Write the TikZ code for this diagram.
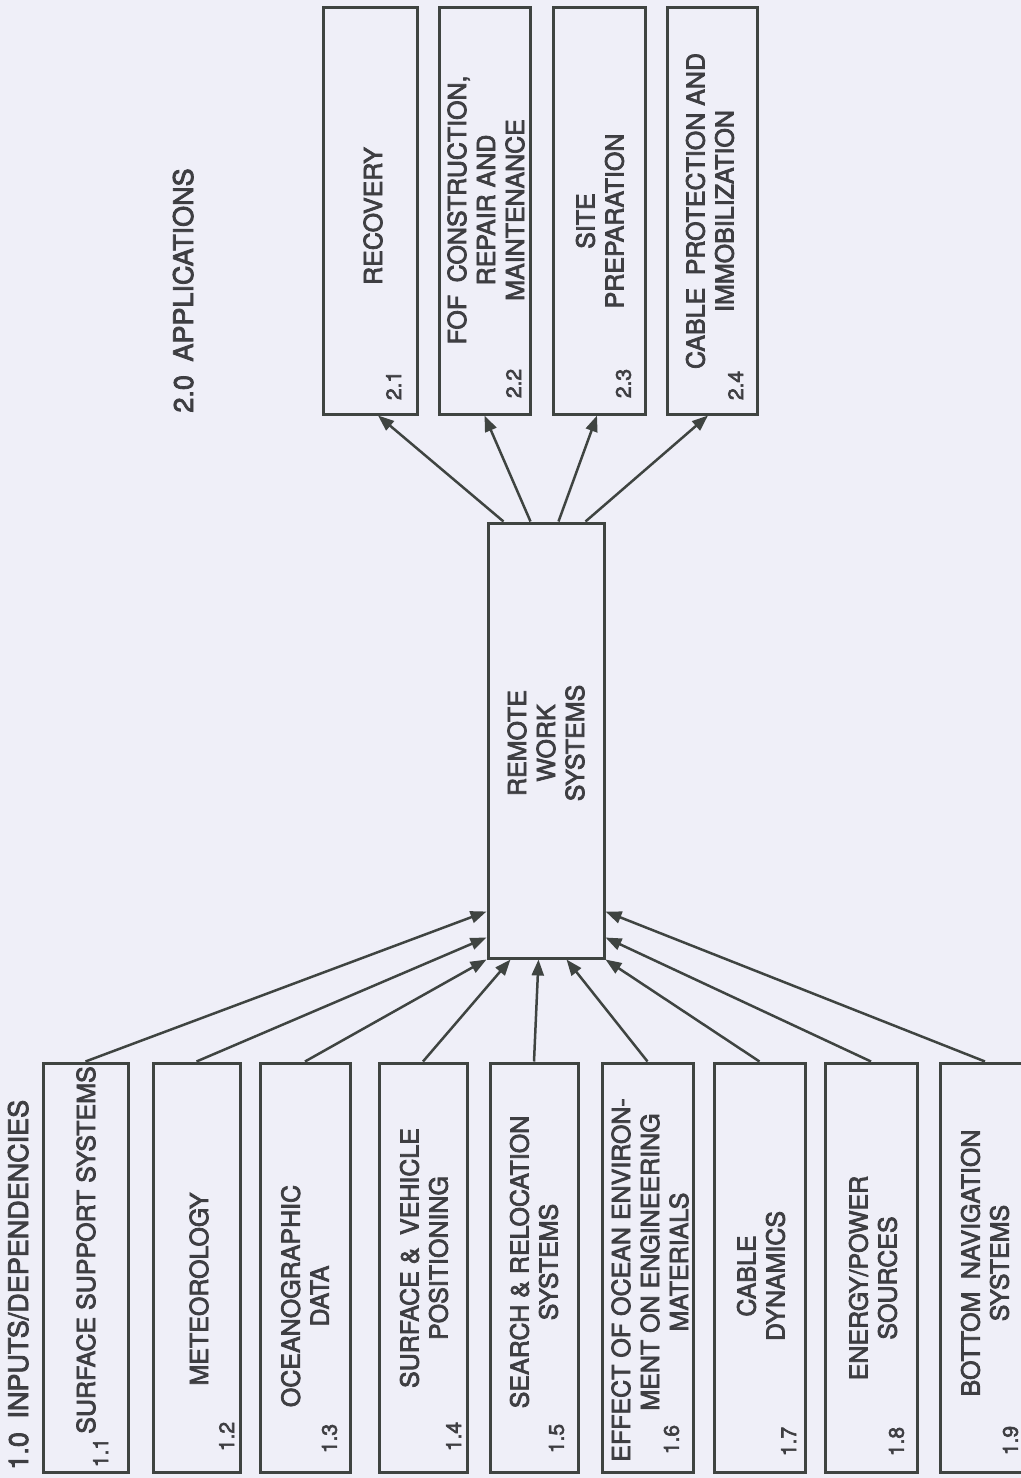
\documentclass[tikz,border=0pt]{standalone}
\usepackage{fontspec}
\setmainfont{TeX Gyre Heros}
\newfontfamily\labelfont{TeX Gyre Heros}[FakeBold=3]
\usetikzlibrary{arrows.meta,calc}
\definecolor{paper}{HTML}{EFEFF8}
\definecolor{ink}{HTML}{3F4441}
\definecolor{txt}{HTML}{3E3E42}

\begin{document}
\begin{tikzpicture}[x=0.5pt,y=-0.5pt,
  box/.style={draw=ink, line width=1.5pt, rectangle, inner sep=0pt},
  lbl/.style={rotate=90, align=center, text=txt,
    font=\labelfont\fontsize{12.5}{14.5}\selectfont, inner sep=0pt},
  num/.style={rotate=90, anchor=south west, text=txt,
    font=\labelfont\fontsize{10.5}{12}\selectfont, inner sep=0pt},
  heading/.style={rotate=90, anchor=base west, text=txt,
    font=\labelfont\fontsize{13.5}{15}\selectfont, inner sep=0pt},
  link/.style={draw=ink, line width=1.25pt, -{Triangle[length=8pt,width=6pt]}},
]
% page
\useasboundingbox (0,0) rectangle (1021,1478);
\fill[paper] (0,0) rectangle (1021,1478);
\clip (0,0) rectangle (1021,1478);

% headings
\node[heading] (h1) at (28,1470) {1.0\enspace INPUTS/DEPENDENCIES};
\node[heading] (h2) at (193,413) {2.0\enspace APPLICATIONS};

% central box
\node[box, minimum width=58pt, minimum height=217.5pt] (rws) at (546,740.5) {};
\node[lbl] (rwsl) at (546,743) {REMOTE\\WORK\\SYSTEMS};

% inputs / dependencies
\node[box, minimum width=42.5pt, minimum height=204.5pt] (b11) at (85.5,1267.5) {};
\node[box, minimum width=43.5pt, minimum height=204.5pt] (b12) at (196.5,1267.5) {};
\node[box, minimum width=45pt,   minimum height=204.5pt] (b13) at (305,1267.5) {};
\node[box, minimum width=44pt,   minimum height=204.5pt] (b14) at (423,1267.5) {};
\node[box, minimum width=44pt,   minimum height=204.5pt] (b15) at (534,1267.5) {};
\node[box, minimum width=45.5pt, minimum height=204.5pt] (b16) at (647.5,1267.5) {};
\node[box, minimum width=45.5pt, minimum height=204.5pt] (b17) at (759.5,1267.5) {};
\node[box, minimum width=46pt,   minimum height=204.5pt] (b18) at (871,1267.5) {};
\node[box, minimum width=45pt,   minimum height=204.5pt] (b19) at (985,1267.5) {};

\node[lbl] (l11) at (86,1250) {SURFACE SUPPORT SYSTEMS};
\node[lbl] (l12) at (199,1289) {METEOROLOGY};
\node[lbl] (l13) at (305,1296) {OCEANOGRAPHIC\\DATA};
\node[lbl] (l14) at (424,1258) {SURFACE \&\enspace VEHICLE\\POSITIONING};
\node[lbl] (l15) at (534,1262) {SEARCH \& RELOCATION\\SYSTEMS};
\node[lbl] (l16) at (650,1262) {EFFECT OF OCEAN ENVIRON-\hspace*{18pt}\\MENT ON ENGINEERING\\MATERIALS};
\node[lbl] (l17) at (761,1276) {CABLE\\DYNAMICS};
\node[lbl] (l18) at (873,1278) {ENERGY/POWER\\SOURCES};
\node[lbl] (l19) at (985,1263) {BOTTOM\enspace NAVIGATION\\SYSTEMS};

\node[num] (n11) at ($(b11.south east)+(-21,-6)$) {1.1};
\node[num] (n12) at ($(b12.south east)+(-7,-22)$) {1.2};
\node[num] (n13) at ($(b13.south east)+(-14,-20)$) {1.3};
\node[num] (n14) at ($(b14.south east)+(-7,-22)$) {1.4};
\node[num] (n15) at ($(b15.south east)+(-15,-20)$) {1.5};
\node[num] (n16) at ($(b16.south east)+(-15,-19)$) {1.6};
\node[num] (n17) at ($(b17.south east)+(-10,-17)$) {1.7};
\node[num] (n18) at ($(b18.south east)+(-14,-17)$) {1.8};
\node[num] (n19) at ($(b19.south east)+(-13,-18)$) {1.9};

% applications
\node[box, minimum width=47pt,   minimum height=203.5pt] (b21) at (370,210.5) {};
\node[box, minimum width=45.5pt, minimum height=203.5pt] (b22) at (484.5,210.5) {};
\node[box, minimum width=46pt,   minimum height=203.5pt] (b23) at (599,210.5) {};
\node[box, minimum width=45pt,   minimum height=203.5pt] (b24) at (712,210.5) {};

\node[lbl] (l21) at (373,216) {RECOVERY};
\node[lbl] (l22) at (486,210) {FOF\enspace CONSTRUCTION,\\REPAIR AND\\MAINTENANCE};
\node[lbl] (l23) at (600,221) {SITE\\PREPARATION};
\node[lbl] (l24) at (710,211) {CABLE\enspace PROTECTION AND\\IMMOBILIZATION};

\node[num] (n21) at ($(b21.south east)+(-17,-15)$) {2.1};
\node[num] (n22) at ($(b22.south east)+(-10,-17)$) {2.2};
\node[num] (n23) at ($(b23.south east)+(-15,-17)$) {2.3};
\node[num] (n24) at ($(b24.south east)+(-15,-15)$) {2.4};

% inputs feeding the remote work systems
\draw[link] (b11.north) -- ($(rws.south west)+(0,-48)$);
\draw[link] (b12.north) -- ($(rws.south west)+(0,-22)$);
\draw[link] (b13.north) -- (rws.south west);
\draw[link] (b14.north) -- ($(rws.south west)+(24,0)$);
\draw[link] (b15.north) -- ($(rws.south west)+(52,0)$);
\draw[link] (b16.north) -- ($(rws.south west)+(80,0)$);
\draw[link] (b17.north) -- (rws.south east);
\draw[link] (b18.north) -- ($(rws.south east)+(0,-22)$);
\draw[link] (b19.north) -- ($(rws.south east)+(0,-48)$);

% remote work systems serving the applications
\draw[link] ($(rws.north west)+(17,0)$) -- ($(b21.south)+(8,0)$);
\draw[link] ($(rws.north west)+(44,0)$) -- (b22.south);
\draw[link] ($(rws.north west)+(72,0)$) -- ($(b23.south)+(-2,0)$);
\draw[link] ($(rws.north west)+(99,0)$) -- ($(b24.south)+(-4,0)$);
\end{tikzpicture}
\end{document}
